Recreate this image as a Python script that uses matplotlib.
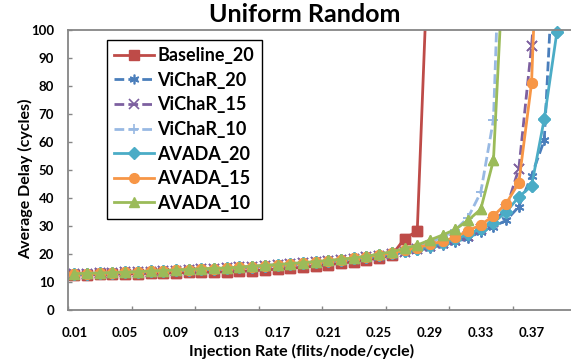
import matplotlib
matplotlib.use("Agg")
import matplotlib.pyplot as plt
import numpy as np

plt.rcParams["font.family"] = ["Lato", "DejaVu Sans"]
plt.rcParams["font.weight"] = "bold"

# injection rates (category axis, 0.01 .. 0.40)
rates = [round(0.01 * k, 2) for k in range(1, 41)]

# average delay (cycles) per series, starting at 0.01
baseline_20 = [12.5, 12.6, 12.7, 12.8, 12.9, 13.0, 13.1, 13.2, 13.3, 13.4,
               13.5, 13.6, 13.6, 13.8, 14.0, 14.3, 14.6, 14.9, 15.3, 15.7,
               16.2, 16.7, 17.3, 17.9, 18.6, 19.6, 25.5, 28.2, 145]
vichar_20 = [12.9, 13.0, 13.1, 13.2, 13.4, 13.5, 13.7, 13.9, 14.1, 14.3,
             14.5, 14.7, 14.8, 15.1, 15.4, 15.7, 16.0, 16.3, 16.6, 17.0,
             17.4, 17.8, 18.2, 18.7, 19.3, 19.9, 20.6, 21.4, 22.3, 23.3,
             24.4, 25.6, 28.0, 29.8, 32.0, 36.9, 48.0, 60.6, 150]
vichar_15 = [12.9, 13.0, 13.1, 13.2, 13.4, 13.5, 13.7, 13.9, 14.1, 14.3,
             14.5, 14.7, 14.9, 15.2, 15.5, 15.8, 16.1, 16.4, 16.7, 17.1,
             17.5, 17.9, 18.3, 18.8, 19.4, 20.1, 20.8, 21.7, 22.7, 23.8,
             25.0, 26.5, 29.0, 31.5, 36.0, 50.5, 94.3, 150]
vichar_10 = [13.0, 13.1, 13.2, 13.3, 13.5, 13.6, 13.8, 14.0, 14.2, 14.4,
             14.6, 14.8, 15.0, 15.3, 15.6, 15.9, 16.2, 16.5, 16.9, 17.3,
             17.7, 18.1, 18.6, 19.2, 19.8, 20.6, 21.6, 22.8, 24.2, 26.0,
             28.6, 33.0, 42.0, 68.0, 200]
avada_20 = [12.9, 13.0, 13.1, 13.3, 13.4, 13.6, 13.8, 14.0, 14.2, 14.4,
            14.6, 14.8, 14.9, 15.2, 15.5, 15.8, 16.1, 16.4, 16.8, 17.1,
            17.5, 17.9, 18.4, 18.9, 19.5, 20.2, 21.0, 21.9, 22.9, 24.0,
            25.3, 27.0, 29.0, 31.2, 35.0, 40.4, 44.3, 68.2, 99.4]
avada_15 = [12.9, 13.0, 13.1, 13.3, 13.4, 13.6, 13.8, 14.0, 14.2, 14.4,
            14.6, 14.8, 14.9, 15.2, 15.5, 15.8, 16.1, 16.5, 16.8, 17.2,
            17.6, 18.0, 18.5, 19.0, 19.7, 20.4, 21.3, 22.3, 23.4, 24.6,
            26.0, 28.3, 30.4, 33.6, 38.0, 45.5, 81.0, 200]
avada_10 = [13.0, 13.1, 13.2, 13.4, 13.5, 13.7, 13.9, 14.1, 14.3, 14.5,
            14.7, 14.9, 15.0, 15.3, 15.6, 15.9, 16.2, 16.6, 16.9, 17.3,
            17.7, 18.1, 18.6, 19.2, 20.0, 20.8, 22.0, 23.2, 25.0, 26.8,
            28.8, 32.0, 36.0, 53.5, 144]

series = [
    ("Baseline_20", baseline_20, "#BE4B48", "-", "s"),
    ("ViChaR_20", vichar_20, "#4A7EBB", "--", (6, 2, 0)),
    ("ViChaR_15", vichar_15, "#7D60A0", "--", "x"),
    ("ViChaR_10", vichar_10, "#98B9E3", "--", "+"),
    ("AVADA_20", avada_20, "#4BACC6", "-", "D"),
    ("AVADA_15", avada_15, "#F79646", "-", "o"),
    ("AVADA_10", avada_10, "#9BBB59", "-", "^"),
]

fig = plt.figure(figsize=(5.71, 3.62), dpi=100)
ax = fig.add_axes([68 / 571, 1 - 310 / 362, 508 / 571, 280 / 362])

handles = []
for name, vals, color, ls, marker in series:
    x = np.arange(len(vals))
    y = np.array(vals, dtype=float)
    linestyle = (0, (3.5, 1.5)) if ls == "--" else "-"
    msize = 7 if marker != "D" else 6
    mew = 1.2 if marker in ("x", "+", (6, 2, 0)) else 1
    h, = ax.plot(x, y, color=color, linestyle=linestyle, linewidth=2.0,
                 marker=marker, markersize=msize, markeredgewidth=mew,
                 markerfacecolor=color, markeredgecolor=color, label=name)
    handles.append(h)
    # markers inside the range are not cut at the top edge
    inside = y <= 100
    ax.plot(x[inside], y[inside], linestyle="none", marker=marker,
            markersize=msize, markeredgewidth=mew, color=color,
            clip_on=False)

ax.set_xlim(-0.5, len(rates) - 0.5)
ax.set_ylim(0, 100)

label_idx = list(range(0, 37, 4))
ax.set_xticks(label_idx)
ax.set_xticklabels([f"{rates[i]:.2f}" for i in label_idx], fontsize=9.5,
                   fontweight="bold")
ax.tick_params(axis="x", which="major", length=0, pad=12)
ax.set_xticks(np.arange(-0.5, len(rates), 5), minor=True)
ax.tick_params(axis="x", which="minor", direction="in", length=3,
               color="#868686", width=1)

ax.set_yticks(range(0, 101, 10))
ax.set_yticklabels([str(v) for v in range(0, 101, 10)], fontsize=9.5,
                   fontweight="bold")
ax.tick_params(axis="y", direction="in", length=3, color="#868686", width=1,
               pad=10)

for side in ("left", "bottom", "top"):
    ax.spines[side].set_color("#868686")
    ax.spines[side].set_linewidth(1.3)
ax.spines["right"].set_visible(False)

ax.set_xlabel("Injection Rate (flits/node/cycle)", fontsize=11.5,
              fontweight="bold")
ax.xaxis.set_label_coords((302 - 68) / 508, (310 - 344) / 280)
ax.set_ylabel("Average Delay (cycles)", fontsize=11.5, fontweight="bold")
ax.yaxis.set_label_coords((33 - 68) / 508, (310 - 179) / 280)

fig.text(305 / 571, 1 - 14 / 362, "Uniform Random", ha="center",
         va="center", fontsize=18, fontweight="bold")

leg = ax.legend(handles=handles, loc="upper left",
                bbox_to_anchor=(107 / 571, 1 - 40 / 362),
                bbox_transform=fig.transFigure, borderaxespad=0,
                fancybox=False, framealpha=1, edgecolor="black",
                prop={"weight": "bold", "size": 13}, handlelength=2.2,
                handletextpad=0.2, labelspacing=0.42, borderpad=0.4)
leg.get_frame().set_linewidth(1)

fig.savefig("out.png", dpi=100)
